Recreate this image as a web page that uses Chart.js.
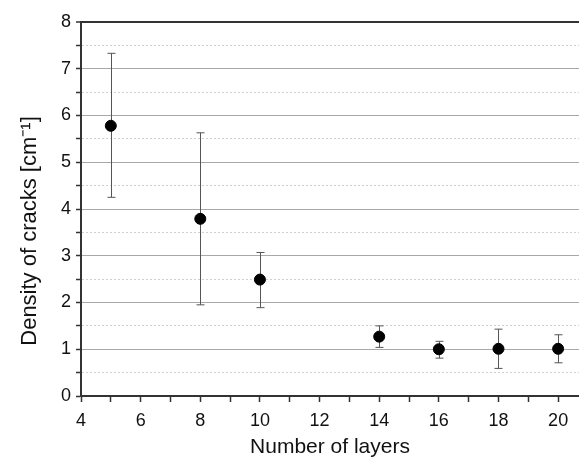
<!DOCTYPE html>
<html>
<head>
<meta charset="utf-8">
<script src="https://cdn.jsdelivr.net/npm/chart.js@4"></script>
<style>
  html, body { margin: 0; padding: 0; background: #fff; }
  #wrap { width: 579px; height: 460px; }
</style>
</head>
<body>
<div id="wrap"><canvas id="chart"></canvas></div>
<script>
const layers = [5, 8, 10, 14, 16, 18, 20];
const density = [5.78, 3.79, 2.49, 1.27, 1.00, 1.01, 1.01];
const errLow = [4.25, 1.95, 1.89, 1.04, 0.81, 0.59, 0.71];
const errHigh = [7.33, 5.63, 3.07, 1.50, 1.17, 1.43, 1.31];

const FONT = "'Liberation Sans', Arial, sans-serif";

// error bars drawn through the chart scales
const errorBars = {
  id: "errorBars",
  beforeDatasetsDraw(chart) {
    const { ctx, scales } = chart;
    const x = scales.x, y = scales.y;
    ctx.save();
    ctx.strokeStyle = "#555";
    ctx.lineWidth = 1;
    layers.forEach((l, i) => {
      const px = Math.round(x.getPixelForValue(l)) + 0.5;
      const top = y.getPixelForValue(errHigh[i]);
      const bot = y.getPixelForValue(errLow[i]);
      ctx.beginPath();
      ctx.moveTo(px, top);
      ctx.lineTo(px, bot);
      ctx.moveTo(px - 4, top);
      ctx.lineTo(px + 4, top);
      ctx.moveTo(px - 4, bot);
      ctx.lineTo(px + 4, bot);
      ctx.stroke();
    });
    ctx.restore();
  },
};

new Chart(document.getElementById("chart"), {
  type: "scatter",
  data: {
    datasets: [
      {
        data: layers.map((l, i) => ({ x: l, y: density[i] })),
        backgroundColor: "#000",
        borderColor: "#000",
        pointRadius: 5.5,
        pointHoverRadius: 5.5,
      },
    ],
  },
  options: {
    responsive: true,
    maintainAspectRatio: false,
    animation: false,
    layout: {
      autoPadding: false,
      padding: { top: 22, right: 0, left: 0, bottom: 0 },
    },
    plugins: {
      legend: { display: false },
      tooltip: { enabled: false },
    },
    scales: {
      x: {
        type: "linear",
        min: 4,
        max: 20.7,
        afterBuildTicks: (s) => {
          s.ticks = s.ticks.filter((t) => Number.isInteger(t.value));
        },
        afterFit: (s) => {
          s.height = 64;
          s.paddingRight = 0;
        },
        ticks: {
          stepSize: 1,
          includeBounds: false,
          autoSkip: false,
          maxRotation: 0,
          color: "#111",
          font: { family: FONT, size: 18 },
          padding: 8,
          callback: (v) => (v % 2 === 0 ? v : ""),
        },
        grid: {
          drawOnChartArea: false,
          tickLength: 6,
          tickColor: "#333",
          tickWidth: 1.5,
        },
        border: { color: "#333", width: 2 },
        title: {
          display: true,
          text: "Number of layers",
          color: "#111",
          font: { family: FONT, size: 21 },
          padding: { top: 0, bottom: 0 },
        },
      },
      y: {
        min: 0,
        max: 8,
        afterFit: (s) => {
          s.width = 81;
        },
        ticks: {
          stepSize: 0.5,
          autoSkip: false,
          color: "#111",
          font: { family: FONT, size: 18 },
          padding: 5,
          callback: (v) => (Number.isInteger(v) ? v : ""),
        },
        grid: {
          color: (c) => {
            const v = c.tick ? c.tick.value : 0;
            if (v === 8) return "#333";
            if (v === 0) return "transparent";
            return Number.isInteger(v) ? "#a8a8a8" : "#d0d0d0";
          },
          lineWidth: (c) => (c.tick && c.tick.value === 8 ? 2 : 1),
          tickLength: 5,
          tickColor: "#333",
          tickWidth: 1.5,
        },
        border: {
          color: "#333",
          width: 2,
          dash: (c) => (c.tick && !Number.isInteger(c.tick.value) ? [2, 2] : []),
        },
        title: {
          display: true,
          // trailing em spaces push the label down a little, as in the original
          text: "Density of cracks [cm\u207B\u00B9]\u2003\u2003",
          color: "#111",
          font: { family: FONT, size: 22 },
          padding: { top: 17, bottom: 0 },
        },
      },
    },
  },
  plugins: [errorBars],
});
</script>
</body>
</html>
